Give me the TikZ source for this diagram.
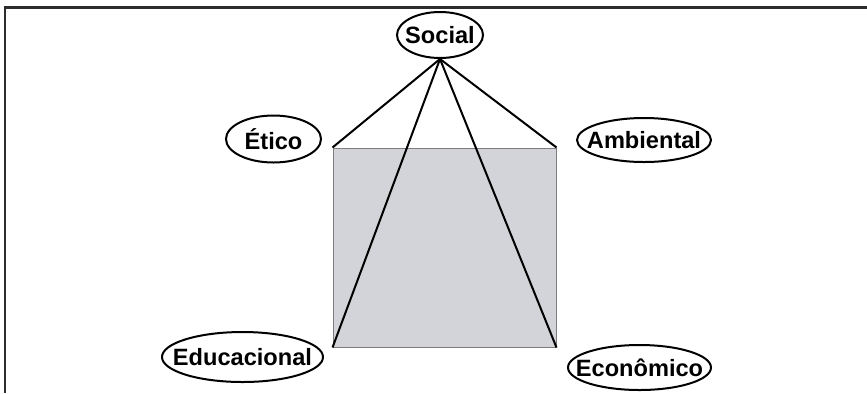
\documentclass[tikz,border=0pt]{standalone}
\usepackage{fontspec}
\setmainfont{Liberation Sans}
\usepackage{tikz}
\usetikzlibrary{shapes.geometric}
\definecolor{cinzaquadro}{RGB}{211,212,217}
\definecolor{cinzaborda}{RGB}{125,125,128}
\definecolor{cinzamoldura}{RGB}{45,45,45}
\tikzstyle{dimensao} = [ellipse, draw=black, line width=1pt, fill=white, inner xsep=-7pt, inner ysep=0pt, text centered, font=\fontsize{11.8}{14}\selectfont\bfseries]
\tikzstyle{quadro} = [rectangle, draw=cinzaborda, line width=0.5pt, fill=cinzaquadro, inner sep=0pt]
\tikzstyle{ligacao} = [draw=black, line width=1pt]
\tikzstyle{moldura} = [draw=cinzamoldura, line width=1.1pt]

\begin{document}
\begin{tikzpicture}[x=0.5pt, y=-0.5pt]
      \useasboundingbox (0,0) rectangle (867,393);
      \draw [moldura] (4.7,393) -- (4.7,7.5) -- (867,7.5);
      \node (base) [quadro, minimum width=111.5pt, minimum height=99.5pt] at (444.5,247.5) {};
      \node (social) [dimensao, minimum width=43pt, minimum height=23pt] at (440,35) {Social};
      \node (etico) [dimensao, minimum width=47.5pt, minimum height=23.5pt] at (273.5,139) {Ético};
      \node (ambiental) [dimensao, minimum width=67pt, minimum height=22pt] at (644,140) {Ambiental};
      \node (educacional) [dimensao, minimum width=80.5pt, minimum height=25pt] at (242.5,357) {Educacional};
      \node (economico) [dimensao, minimum width=71.5pt, minimum height=22.5pt] at (639.5,367.5) {Econômico};
      \draw [ligacao] (social.south) -- (base.north west);
      \draw [ligacao] (social.south) -- (base.north east);
      \draw [ligacao] (social.south) -- (base.south west);
      \draw [ligacao] (social.south) -- (base.south east);
    \end{tikzpicture}
\end{document}
